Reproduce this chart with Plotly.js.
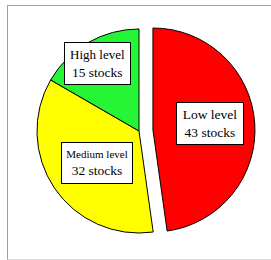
<!DOCTYPE html>
<html>
<head>
<meta charset="utf-8">
<script src="https://cdn.plot.ly/plotly-3.0.1.min.js"></script>
<style>
  html, body { margin: 0; padding: 0; background: #ffffff; }
  #wrap { position: relative; width: 271px; height: 260px; overflow: hidden; }
  #frame { position: absolute; left: 7px; top: 5px; width: 280px; height: 253px;
           border-left: 1px solid #a0a0a0; border-top: 1px solid #a0a0a0;
           border-bottom: 1px solid #d8d8d8; }
  #chart { position: absolute; left: 0; top: 0; width: 271px; height: 260px; }
</style>
</head>
<body>
<div id="wrap">
  <div id="frame"></div>
  <div id="chart"></div>
</div>
<script>
// Data
var categories = ['Low level', 'Medium level', 'High level'];
var values = [43, 32, 15];
var unit = 'stocks';
var colors = ['#ff0000', '#ffff00', '#26f535'];
var pulls = [0.137, 0, 0];

// Label box positions (paper coordinates) and sizes
var labelPos = [
  {x: 0.804, y: 0.534, w: 64, h: 39, fs1: 13.5},
  {x: 0.317, y: 0.360, w: 68, h: 38, fs1: 11},
  {x: 0.319, y: 0.793, w: 63, h: 39, fs1: 13}
];

var FONT = '"Liberation Serif", "Times New Roman", serif';

var trace = {
  type: 'pie',
  values: values,
  labels: categories,
  sort: false,
  direction: 'clockwise',
  rotation: 0,
  pull: pulls,
  textinfo: 'none',
  hoverinfo: 'none',
  showlegend: false,
  marker: { colors: colors, line: { color: '#000000', width: 1 } }
};

var annotations = categories.map(function (c, i) {
  var p = labelPos[i];
  return {
    xref: 'paper', yref: 'paper', x: p.x, y: p.y,
    xanchor: 'center', yanchor: 'middle',
    showarrow: false,
    text: '<span style="font-size:' + p.fs1 + 'px">' + c + '</span><br>' + values[i] + ' ' + unit,
    font: { family: FONT, size: 13.5, color: '#000000' },
    align: 'center',
    bgcolor: '#ffffff',
    bordercolor: '#000000',
    borderwidth: 1,
    borderpad: 1,
    width: p.w,
    height: p.h
  };
});

var layout = {
  width: 271, height: 260,
  margin: { l: 23, r: 16, t: 15, b: 13 },
  paper_bgcolor: 'rgba(0,0,0,0)',
  plot_bgcolor: 'rgba(0,0,0,0)',
  font: { family: FONT, color: '#000000' },
  annotations: annotations
};

Plotly.newPlot('chart', [trace], layout, { displayModeBar: false, staticPlot: true });
</script>
</body>
</html>
